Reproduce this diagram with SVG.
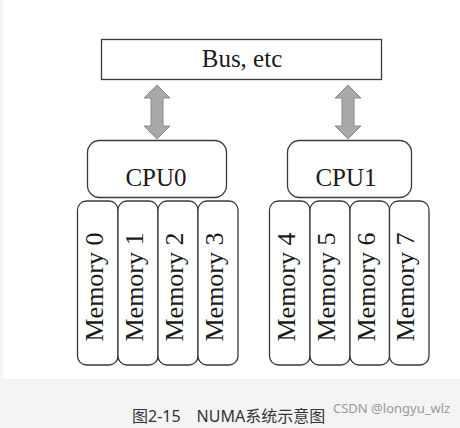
<svg xmlns="http://www.w3.org/2000/svg" width="460" height="428" viewBox="0 0 460 428">
<style>
.box{fill:#fff;stroke:#3a3a3a;stroke-width:1.3}
.t{font-family:"Liberation Serif","Times New Roman",serif;font-size:25px;fill:#1a1a1a;text-anchor:middle}
.m{font-family:"Liberation Serif","Times New Roman",serif;font-size:26px;fill:#1a1a1a;text-anchor:middle}
.arr{fill:#a9a9a9;stroke:#8a8a8a;stroke-width:1}
</style>
<defs>
<polygon id="dbl" class="arr" points="0,-27 13,-14 6,-14 6,14 13,14 0,27 -13,14 -6,14 -6,-14 -13,-14"/>
</defs>
<rect x="0" y="0" width="460" height="428" fill="#f4f4f4"/>
<rect x="3" y="0" width="457" height="379" fill="#fff"/>
<g id="bus">
<rect class="box" x="101.5" y="39.5" width="280" height="40"/>
<text class="t" x="242" y="67">Bus, etc</text>
</g>
<g id="connectors">
<use href="#dbl" x="157" y="112"/>
<use href="#dbl" x="348" y="112"/>
</g>
<g id="cpu0">
<rect class="box" x="87.5" y="140.5" width="139" height="57" rx="12"/>
<text class="t" x="156" y="186">CPU0</text>
</g>
<g id="cpu1">
<rect class="box" x="287.5" y="140.5" width="124" height="57" rx="12"/>
<text class="t" x="346" y="186">CPU1</text>
</g>
<g id="mem0"><rect class="box" x="77.5" y="201" width="40.5" height="164" rx="9"/><text class="m" transform="translate(102.5,287) rotate(-90)">Memory 0</text></g>
<g id="mem1"><rect class="box" x="118" y="201" width="40" height="164" rx="9"/><text class="m" transform="translate(143,287) rotate(-90)">Memory 1</text></g>
<g id="mem2"><rect class="box" x="158" y="201" width="40" height="164" rx="9"/><text class="m" transform="translate(183,287) rotate(-90)">Memory 2</text></g>
<g id="mem3"><rect class="box" x="198" y="201" width="40" height="164" rx="9"/><text class="m" transform="translate(223,287) rotate(-90)">Memory 3</text></g>
<g id="mem4"><rect class="box" x="269.5" y="201" width="40.5" height="164" rx="9"/><text class="m" transform="translate(294.5,287) rotate(-90)">Memory 4</text></g>
<g id="mem5"><rect class="box" x="310" y="201" width="40" height="164" rx="9"/><text class="m" transform="translate(335,287) rotate(-90)">Memory 5</text></g>
<g id="mem6"><rect class="box" x="350" y="201" width="39.5" height="164" rx="9"/><text class="m" transform="translate(374.5,287) rotate(-90)">Memory 6</text></g>
<g id="mem7"><rect class="box" x="389.5" y="201" width="39.5" height="164" rx="9"/><text class="m" transform="translate(414,287) rotate(-90)">Memory 7</text></g>
<text x="132" y="422" font-family="'Noto Sans','Noto Sans CJK SC',sans-serif" font-size="16" fill="#333">图2-15　NUMA系统示意图</text>
<text x="333" y="413" font-family="'Noto Sans',sans-serif" font-size="13" fill="#999">CSDN @longyu_wlz</text>
</svg>
